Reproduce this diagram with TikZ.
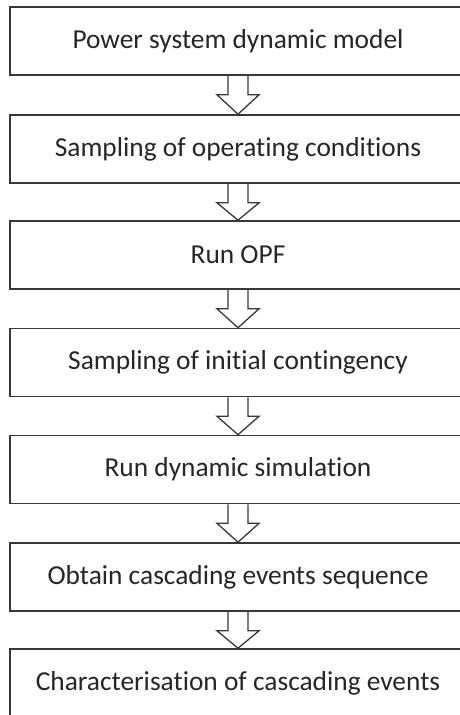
\documentclass[tikz,border=0pt]{standalone}
\usepackage{fontspec}
\setmainfont[Ligatures={NoCommon}]{Carlito}
\usetikzlibrary{calc}
\begin{document}
\begin{tikzpicture}[x=1bp,y=-1bp,
  stepbox/.style={draw=black!78, line width=1.6bp, minimum width=456bp,
    minimum height=68bp, inner sep=0pt, text=black!85,
    font=\fontsize{27.5}{32}\selectfont},
  flowarrow/.style={draw=black!78, line width=1.3bp, line join=miter}]
\useasboundingbox (0,0) rectangle (460,715);
\clip (0,0) rectangle (460,715);
\node[stepbox] (b1) at (238,41)    {Power system dynamic model};
\node[stepbox] (b2) at (238,149)   {Sampling of operating conditions};
\node[stepbox] (b3) at (238,255)   {Run OPF};
\node[stepbox] (b4) at (238,362.5) {Sampling of initial contingency};
\node[stepbox] (b5) at (238,469.5) {Run dynamic simulation};
\node[stepbox] (b6) at (238,577)   {Obtain cascading events sequence};
\node[stepbox] (b7) at (238,683)   {Characterisation of cascading events};
% hollow block arrows between consecutive steps
\foreach \a/\b in {b1/b2,b2/b3,b3/b4,b4/b5,b5/b6,b6/b7}{
  \draw[flowarrow] ($(\a.south)+(-10,0)$) -- ($(\a.south)+(-10,19)$)
    -- ($(\a.south)+(-21,19)$) -- (\b.north) -- ($(\a.south)+(21,19)$)
    -- ($(\a.south)+(10,19)$) -- ($(\a.south)+(10,0)$);
}
\end{tikzpicture}
\end{document}
